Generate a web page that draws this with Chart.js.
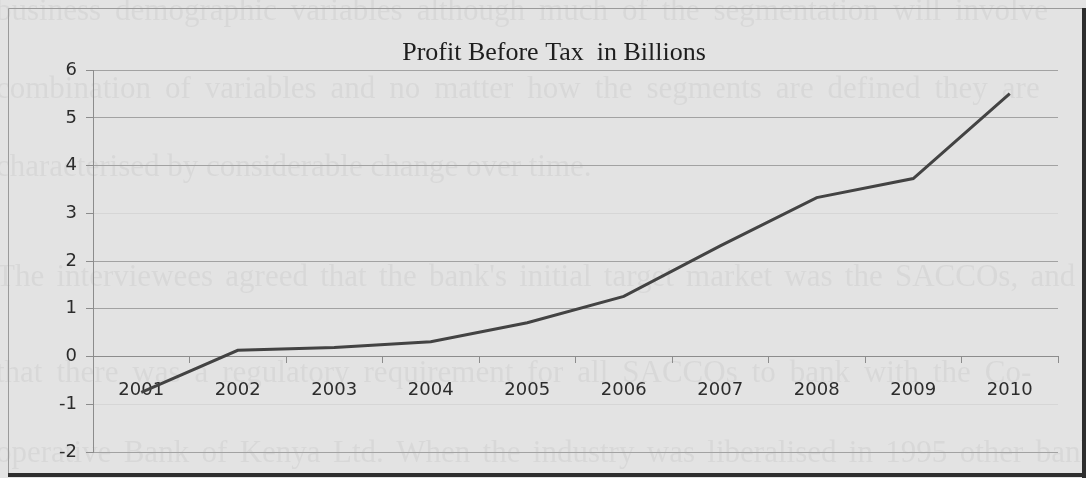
<!DOCTYPE html>
<html>
<head>
<meta charset="utf-8">
<script src="https://cdn.jsdelivr.net/npm/chart.js@4"></script>
<style>
  html, body { margin: 0; padding: 0; background: #e3e3e3; }
  #wrap { width: 1086px; height: 478px; position: relative; }
</style>
</head>
<body>
<div id="wrap"><canvas id="profitChart"></canvas></div>
<script>
const years = ["2001", "2002", "2003", "2004", "2005", "2006", "2007", "2008", "2009", "2010"];
const profitBeforeTax = [-0.75, 0.13, 0.19, 0.31, 0.71, 1.26, 2.32, 3.33, 3.73, 5.51];
const yMin = -2;
const yMax = 6;
const chartTitle = "Profit Before Tax  in Billions";

// text of the printed page showing faintly behind the chart
const pageLines = [
  "business demographic variables although much of the segmentation will involve",
  "combination of variables and no matter how the segments are defined they are",
  "characterised by considerable change over time.",
  "The interviewees agreed that the bank's initial target market was the SACCOs, and t",
  "that there was a regulatory requirement for all SACCOs to bank with the Co-",
  "operative Bank of Kenya Ltd. When the industry was liberalised in 1995 other bank"
];
const pageLineY = [20, 98, 176, 286, 382, 462];
const justified = [true, true, false, true, true, true];

const pageBackground = {
  id: "pageBackground",
  beforeDraw(chart) {
    const ctx = chart.ctx;
    ctx.save();
    ctx.fillStyle = "#e3e3e3";
    ctx.fillRect(0, 0, chart.width, chart.height);

    ctx.fillStyle = "rgba(70, 70, 70, 0.065)";
    ctx.font = "31px 'Liberation Serif'";
    ctx.textBaseline = "alphabetic";
    pageLines.forEach((line, i) => {
      const words = line.split(" ");
      if (!justified[i]) {
        ctx.fillText(line, -4, pageLineY[i]);
        return;
      }
      // spread the words over the full line width
      const spaceW = ctx.measureText(" ").width;
      const wordsW = words.reduce((s, w) => s + ctx.measureText(w).width, 0);
      const gap = Math.min(spaceW * 1.8, Math.max(spaceW, (1100 - wordsW) / (words.length - 1)));
      let x = -4;
      words.forEach((w) => {
        ctx.fillText(w, x, pageLineY[i]);
        x += ctx.measureText(w).width + gap;
      });
    });

    // frame of the chart box
    ctx.strokeStyle = "#9a9a9a";
    ctx.lineWidth = 1;
    ctx.beginPath();
    ctx.moveTo(8.5, 475);
    ctx.lineTo(8.5, 8.5);
    ctx.lineTo(1082, 8.5);
    ctx.stroke();
    ctx.fillStyle = "#2e2e2e";
    ctx.fillRect(1082, 8, 4, 470);
    ctx.fillRect(8, 473, 1078, 4);
    ctx.restore();
  }
};

const ctx = document.getElementById("profitChart");

new Chart(ctx, {
  type: "line",
  data: {
    labels: years,
    datasets: [
      {
        label: "Profit Before Tax",
        data: profitBeforeTax,
        borderColor: "#434343",
        borderWidth: 3,
        pointRadius: 0,
        tension: 0,
        fill: false,
      },
    ],
  },
  options: {
    responsive: true,
    maintainAspectRatio: false,
    animation: false,
    layout: {
      padding: { top: 8, left: 50, right: 28, bottom: 26 },
    },
    plugins: {
      legend: { display: false },
      tooltip: { enabled: false },
      title: {
        display: true,
        text: chartTitle,
        color: "#1e1e1e",
        font: { family: "'Liberation Serif'", size: 26, weight: "normal" },
        padding: { top: 30, bottom: 1 },
      },
    },
    scales: {
      x: {
        type: "category",
        position: { y: 0 },
        offset: true,
        grid: {
          offset: true,
          drawOnChartArea: false,
          drawTicks: true,
          tickLength: 6,
          color: "#8c8c8c",
        },
        border: { color: "#8c8c8c", width: 1 },
        ticks: {
          color: "#2c2c2c",
          padding: 17,
          maxRotation: 0,
          font: { family: "'DejaVu Sans'", size: 18 },
        },
      },
      y: {
        min: yMin,
        max: yMax,
        afterFit(scale) {
          scale.width = 43;
          scale.paddingTop = 0;
          scale.paddingBottom = 0;
        },
        grid: {
          color: (c) => (c.tick && (c.tick.value === 3 || c.tick.value === -1)) ? "rgba(140,140,140,0.15)" : "#a2a2a2",
          tickColor: "#8c8c8c",
          tickLength: 7,
        },
        border: { color: "#8c8c8c", width: 1 },
        ticks: {
          stepSize: 1,
          color: "#2c2c2c",
          padding: 9,
          font: { family: "'DejaVu Sans'", size: 18 },
        },
      },
    },
  },
  plugins: [pageBackground],
});
</script>
</body>
</html>
